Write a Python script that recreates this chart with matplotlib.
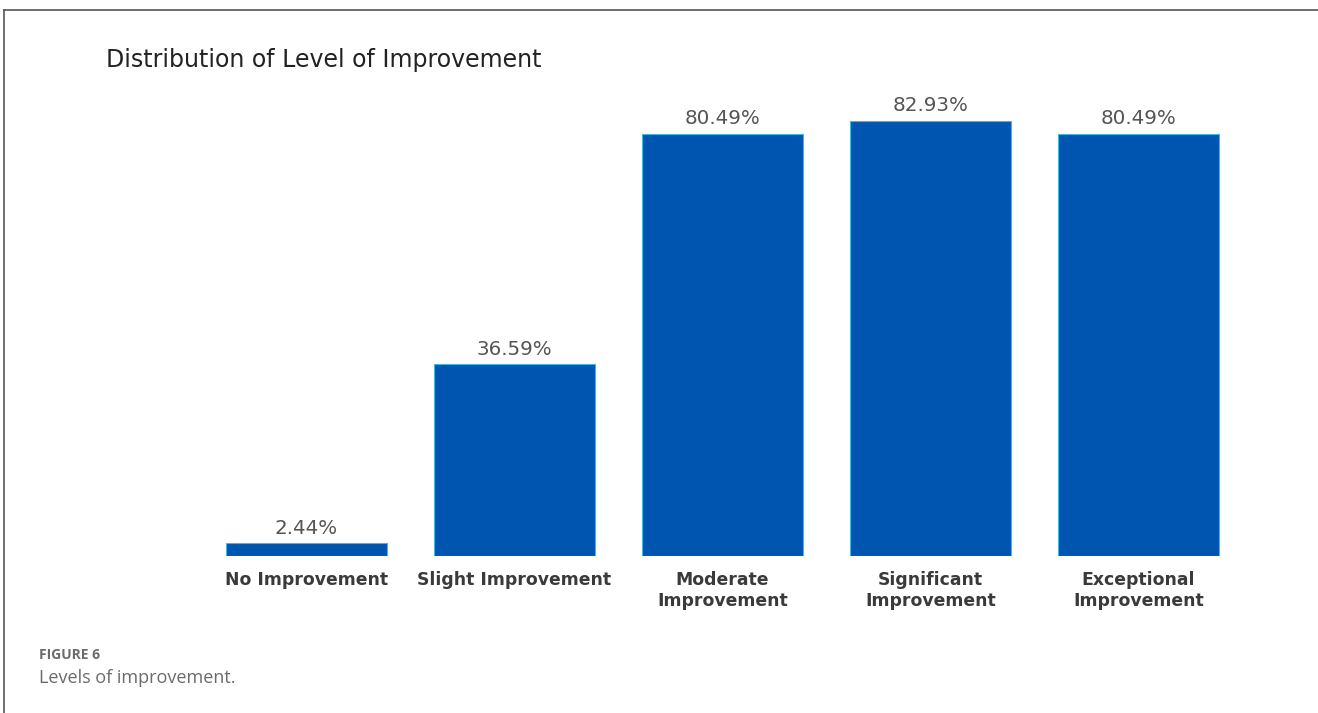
import matplotlib
matplotlib.use("Agg")
import matplotlib.pyplot as plt
from matplotlib.lines import Line2D

categories = ["No Improvement", "Slight Improvement", "Moderate\nImprovement",
              "Significant\nImprovement", "Exceptional\nImprovement"]
values = [2.44, 36.59, 80.49, 82.93, 80.49]
value_labels = ["2.44%", "36.59%", "80.49%", "82.93%", "80.49%"]

W, H = 1318, 713
fig = plt.figure(figsize=(W / 100, H / 100), dpi=100)
fig.patch.set_facecolor("white")

# axes placed in pixel terms: bars sit on y=556 px (from top), 208 px pitch
left = 202.5 / W
bottom = (H - 556) / H
ax = fig.add_axes([left, bottom, 1040 / W, 524.5 / H])
ax.set_xlim(-0.5, 4.5)
ax.set_ylim(0, 100)
ax.axis("off")

x = list(range(len(values)))
ax.bar(x, values, width=0.77, color="#0055B0", edgecolor="#3BB8F0", linewidth=0.8)

for xi, v, lab in zip(x, values, value_labels):
    ax.annotate(lab, (xi, v), xytext=(0, 4), textcoords="offset points",
                ha="center", va="bottom", fontsize=14.3, color="#555555",
                family="DejaVu Sans")

for xi, cat in zip(x, categories):
    ax.annotate(cat, (xi, 0), xytext=(0, -11), textcoords="offset points",
                ha="center", va="top", fontsize=12.4, fontweight="bold",
                color="#3a3a3a", family="DejaVu Sans", linespacing=1.2)

fig.text(106 / W, 1 - 60 / H, "Distribution of Level of Improvement",
         ha="left", va="center", fontsize=17, color="#222222", family="DejaVu Sans")

# caption
fig.text(39 / W, 1 - 655 / H, "FIGURE 6", ha="left", va="center",
         fontsize=10, fontweight="bold", color="#6b6b6b", family="Open Sans")
fig.text(39 / W, 1 - 678 / H, "Levels of improvement.", ha="left", va="center",
         fontsize=13, color="#6b6b6b", family="Open Sans")

# frame lines top and left
fig.add_artist(Line2D([4 / W, 1], [1 - 10 / H, 1 - 10 / H], color="#555555", lw=1.2))
fig.add_artist(Line2D([4 / W, 4 / W], [0, 1 - 10 / H], color="#555555", lw=1.2))

fig.savefig("out.png", dpi=100, facecolor="white")
